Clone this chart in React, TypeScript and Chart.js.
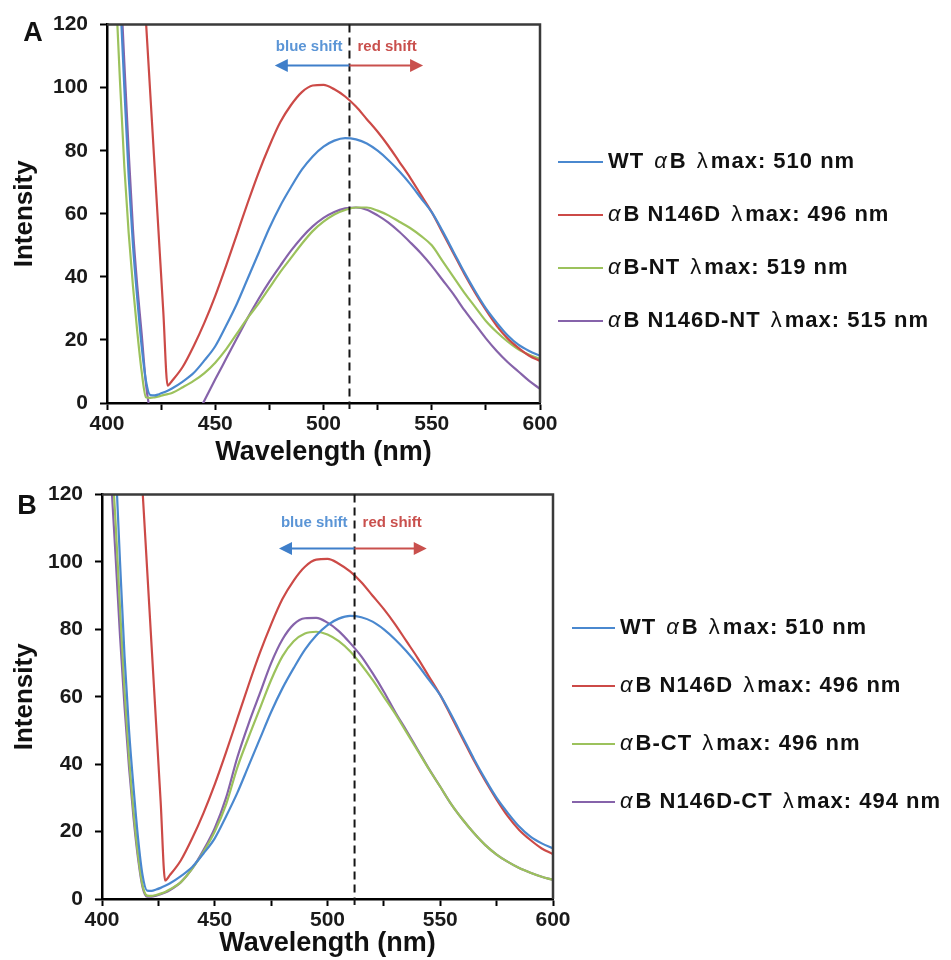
import React, { useEffect, useRef } from 'react';
import { Chart, registerables } from 'chart.js';
Chart.register(...registerables);

// ---------- data ----------
const WAVELENGTH = [
  404, 406, 408, 410, 412, 414, 416, 418, 420, 422, 424, 426, 428, 430,
  435, 440, 445, 450, 455, 460, 465, 470, 475, 480, 485, 490, 495, 500,
  505, 510, 515, 520, 525, 530, 535, 540, 545, 550, 555, 560, 565, 570,
  575, 580, 585, 590, 595, 600,
];

const WT_AB = [
  160, 130, 100, 72, 50, 33, 18, 7, 2.5, 2.4, 2.8, 3.3, 3.9, 4.6,
  6.8, 9.5, 13.5, 18, 24.5, 31.5, 39.5, 47.5, 55.5, 62.5, 68.5, 74, 78.2, 81.3,
  83.2, 84, 83.6, 82.3, 80, 77, 73.5, 69.5, 65, 60.5, 54.5, 48, 41.5, 35.5,
  30, 25.5, 21.5, 18.5, 16.5, 15,
];

const N146D = [
  null, null, null, null, null, null, 143, 121, 98, 75, 52, 29, 5.5, 7,
  11.5, 18, 25.5, 34, 43.5, 53.5, 63.5, 73, 81.5, 89, 94.5, 98.6, 100.7, 100.9,
  99.5, 97.2, 94, 90, 86, 81.5, 76.5, 71.5, 66, 60.5, 54, 47.5, 41, 35,
  29.5, 24.5, 20.5, 17.5, 15, 13.3,
];

const AB_NT = [
  132, 102, 75, 54, 37, 22.5, 10, 1.8, 1.6, 1.8, 2.1, 2.5, 2.8, 3.2,
  5, 7, 9.5, 12.8, 17, 22, 27, 31.5, 36.5, 41.5, 46, 50.5, 54.5, 57.5,
  59.8, 61.2, 62, 62, 61, 59.5, 57.5, 55.5, 53, 50, 45, 40, 35, 30.5,
  26, 22.5, 19.5, 17, 15.3, 14,
];

const N146D_NT = [
  165, 137, 108, 80, 55, 37, 22, 6, -3, -8, -11, -13, -14, -14,
  -11.5, -6, 0.8, 7.5, 14, 20.5, 27, 33, 38.5, 43.5, 48.3, 52.5, 56, 58.7,
  60.6, 61.7, 62, 61.3, 59.5, 57.2, 54.3, 51, 47.5, 43.5, 39, 34.5, 29.5, 25,
  20.5, 16.5, 13, 10, 7, 4.5,
];

const AB_CT = [
  135, 112, 86, 62, 42, 26, 13, 4, 1, 0.9, 1.2, 1.6, 2.1, 2.8,
  5, 9, 14, 20, 28, 39, 48, 56.5, 65, 72, 76.5, 78.8, 79.3, 78.5,
  76.5, 73.5, 69.5, 65, 60, 55, 49.5, 44, 38.5, 33.3, 28, 23.5, 19.5, 16,
  13.2, 11, 9.2, 7.8, 6.6, 5.7,
];

const N146D_CT = [
  125, 102, 78, 57, 39, 24, 12, 3.5, 0.7, 0.7, 1, 1.4, 1.9, 2.6,
  5, 9, 14.5, 21, 30, 42, 52, 61, 70, 77, 81.5, 83.3, 83.4, 82,
  79.5, 76, 72, 67, 61.5, 55.5, 50, 44.3, 38.6, 33.3, 28, 23.5, 19.5, 16,
  13.2, 11, 9.2, 7.8, 6.6, 5.7,
];

const LABELS_A = [
  'WT αB λmax: 510 nm',
  'αB N146D λmax: 496 nm',
  'αB-NT λmax: 519 nm',
  'αB N146D-NT λmax: 515 nm',
];
const LABELS_B = [
  'WT αB λmax: 510 nm',
  'αB N146D λmax: 496 nm',
  'αB-CT λmax: 496 nm',
  'αB N146D-CT λmax: 494 nm',
];

const X_RANGE = [400, 600];
const X_STEP = 25;
const X_LABEL_EVERY = 50;
const Y_RANGE = [0, 120];
const Y_STEP = 20;
const REFERENCE_NM = 512;
const SHIFT_TEXT = ['blue shift', 'red shift'];
const X_TITLE = 'Wavelength (nm)';
const Y_TITLE = 'Intensity';

// ---------- styles ----------
const COLORS = ['#4a88cf', '#cc4a47', '#9cc25c', '#8663aa'];
const ARROW_BLUE = '#3f7fca';
const ARROW_RED = '#c9504d';
const TEXT_BLUE = '#5b95d6';
const TEXT_RED = '#c9504d';
const FONT = '"Liberation Sans", Arial, Helvetica, sans-serif';

const PANEL_A = {
  letter: 'A',
  height: 470,
  area: { left: 107, right: 540, top: 20, bottom: 403 },
  series: [WT_AB, N146D, AB_NT, N146D_NT],
  labels: LABELS_A,
  legendTop: 162,
  legendGap: 53,
  legLine: [18, 63],
  legText: 68,
  textY: 113,
  arrowY: 107,
  blueEnd: 477.5,
  redEnd: 546,
  letterX: 33,
  letterY: 34,
  titleBottomPad: 1,
};

const PANEL_B = {
  letter: 'B',
  height: 490,
  area: { left: 102, right: 553, top: 24, bottom: 429 },
  series: [WT_AB, N146D, AB_CT, N146D_CT],
  labels: LABELS_B,
  legendTop: 158,
  legendGap: 58,
  legLine: [19, 62],
  legText: 67,
  textY: 111.5,
  arrowY: 104,
  blueEnd: 478.5,
  redEnd: 544,
  letterX: 27,
  letterY: 37,
  titleBottomPad: 0,
};

function drawRich(ctx: CanvasRenderingContext2D, text: string, x: number, y: number, size: number) {
  const chars = Array.from(text);
  let cx = x;
  ctx.textAlign = 'left';
  ctx.textBaseline = 'middle';
  (ctx as any).letterSpacing = '1px';
  let run = '';
  const flush = () => {
    if (!run) return;
    ctx.font = `700 ${size}px ${FONT}`;
    ctx.fillText(run, cx, y);
    cx += ctx.measureText(run).width;
    run = '';
  };
  chars.forEach((ch, i) => {
    if (ch === 'α' || ch === 'λ') {
      flush();
      ctx.font = ch === 'α' ? `italic 400 ${size}px ${FONT}` : `400 ${size}px ${FONT}`;
      ctx.fillText(ch, cx, y);
      cx += ctx.measureText(ch).width + 2;
    } else if (ch === ' ' && (chars[i + 1] === 'α' || chars[i + 1] === 'λ')) {
      run += ch;
      flush();
      cx += 3;
    } else {
      run += ch;
    }
  });
  flush();
  (ctx as any).letterSpacing = '0px';
}

function arrow(ctx: CanvasRenderingContext2D, x0: number, x1: number, y: number, color: string) {
  const dir = Math.sign(x1 - x0);
  ctx.strokeStyle = color;
  ctx.fillStyle = color;
  ctx.lineWidth = 2;
  ctx.beginPath();
  ctx.moveTo(x0, y);
  ctx.lineTo(x1 - dir * 10, y);
  ctx.stroke();
  ctx.beginPath();
  ctx.moveTo(x1, y);
  ctx.lineTo(x1 - dir * 13, y - 6.5);
  ctx.lineTo(x1 - dir * 13, y + 6.5);
  ctx.closePath();
  ctx.fill();
}

const decor = (cfg: any) => ({
  id: 'decor',
  afterDraw(chart: any) {
    const { ctx, chartArea: a, scales } = chart;
    const xs = scales.x;
    const ys = scales.y;
    ctx.save();
    // frame top / right
    ctx.strokeStyle = '#3a3a3a';
    ctx.lineWidth = 2.5;
    ctx.beginPath();
    ctx.moveTo(a.left, a.top);
    ctx.lineTo(a.right, a.top);
    ctx.lineTo(a.right, a.bottom);
    ctx.stroke();
    // reference dashed line
    const dx = xs.getPixelForValue(REFERENCE_NM);
    ctx.strokeStyle = '#151515';
    ctx.lineWidth = 2;
    ctx.setLineDash([8, 5]);
    ctx.beginPath();
    ctx.moveTo(dx, ys.getPixelForValue(Y_RANGE[1]));
    ctx.lineTo(dx, ys.getPixelForValue(Y_RANGE[0]) + 6);
    ctx.stroke();
    ctx.setLineDash([]);
    // arrows
    const ay = ys.getPixelForValue(cfg.arrowY);
    arrow(ctx, dx, xs.getPixelForValue(cfg.blueEnd), ay, ARROW_BLUE);
    arrow(ctx, dx, xs.getPixelForValue(cfg.redEnd), ay, ARROW_RED);
    // shift labels
    const ty = ys.getPixelForValue(cfg.textY);
    ctx.font = `700 15px ${FONT}`;
    ctx.textBaseline = 'middle';
    ctx.fillStyle = TEXT_BLUE;
    ctx.textAlign = 'right';
    ctx.fillText(SHIFT_TEXT[0], dx - 7, ty);
    ctx.fillStyle = TEXT_RED;
    ctx.textAlign = 'left';
    ctx.fillText(SHIFT_TEXT[1], dx + 8, ty);
    // panel letter
    ctx.fillStyle = '#111';
    ctx.font = `700 27px ${FONT}`;
    ctx.textAlign = 'center';
    ctx.fillText(cfg.letter, cfg.letterX, cfg.letterY);
    // legend
    chart.data.datasets.forEach((ds: any, i: number) => {
      const ly = cfg.legendTop + i * cfg.legendGap;
      ctx.strokeStyle = ds.borderColor;
      ctx.lineWidth = 2;
      ctx.beginPath();
      ctx.moveTo(a.right + cfg.legLine[0], ly);
      ctx.lineTo(a.right + cfg.legLine[1], ly);
      ctx.stroke();
      ctx.fillStyle = '#111';
      drawRich(ctx, ds.label, a.right + cfg.legText, ly, 22);
    });
    ctx.restore();
  },
});

function Panel({ cfg }: { cfg: any }) {
  const ref = useRef<HTMLCanvasElement>(null);
  useEffect(() => {
    const tickFont = { family: FONT, size: 21, weight: 'bold' as const };
    const chart = new Chart(ref.current!, {
      type: 'line',
      data: {
        datasets: cfg.series.map((s: (number | null)[], i: number) => ({
          label: cfg.labels[i],
          data: WAVELENGTH.map((x, j) => ({ x, y: s[j] })),
          borderColor: COLORS[i],
          backgroundColor: COLORS[i],
          borderWidth: 2.2,
          pointRadius: 0,
          fill: false,
          cubicInterpolationMode: 'monotone',
        })),
      },
      options: {
        animation: false,
        responsive: false,
        devicePixelRatio: 1,
        events: [],
        layout: {
          padding: { left: 0, top: cfg.area.top, right: 951 - cfg.area.right, bottom: 0 },
        },
        plugins: { legend: { display: false }, tooltip: { enabled: false } },
        scales: {
          x: {
            type: 'linear',
            min: X_RANGE[0],
            max: X_RANGE[1],
            border: { color: '#000', width: 2.5 },
            grid: { drawOnChartArea: false, drawTicks: true, tickLength: 7, tickWidth: 2, tickColor: '#000', color: '#000' },
            ticks: {
              stepSize: X_STEP,
              autoSkip: false,
              maxRotation: 0,
              padding: 2,
              color: '#1a1a1a',
              font: tickFont,
              callback: (v: any) => (Number(v) % X_LABEL_EVERY === 0 ? String(v) : ''),
            },
            title: {
              display: true,
              text: X_TITLE,
              color: '#111',
              font: { family: FONT, size: 27, weight: 'bold' },
              padding: { top: 0, bottom: cfg.titleBottomPad },
            },
            afterFit: (s: any) => {
              s.height = cfg.height - cfg.area.bottom;
            },
          },
          y: {
            type: 'linear',
            min: Y_RANGE[0],
            max: Y_RANGE[1],
            border: { color: '#000', width: 2.5 },
            grid: { drawOnChartArea: false, drawTicks: true, tickLength: 7, tickWidth: 2, tickColor: '#000', color: '#000' },
            ticks: {
              stepSize: Y_STEP,
              padding: 12,
              color: '#1a1a1a',
              font: tickFont,
            },
            title: {
              display: true,
              text: Y_TITLE,
              color: '#111',
              font: { family: FONT, size: 26, weight: 'bold' },
              padding: { top: 9, bottom: 0 },
            },
            afterFit: (s: any) => {
              s.width = cfg.area.left;
            },
          },
        },
      } as any,
      plugins: [decor(cfg)],
    });
    return () => chart.destroy();
  }, [cfg]);
  return <canvas ref={ref} width={951} height={cfg.height} style={{ display: 'block' }} />;
}

export default function App() {
  return (
    <div style={{ position: 'absolute', left: 0, top: 0, width: 951, height: 960, background: '#fff' }}>
      <Panel cfg={PANEL_A} />
      <Panel cfg={PANEL_B} />
    </div>
  );
}
